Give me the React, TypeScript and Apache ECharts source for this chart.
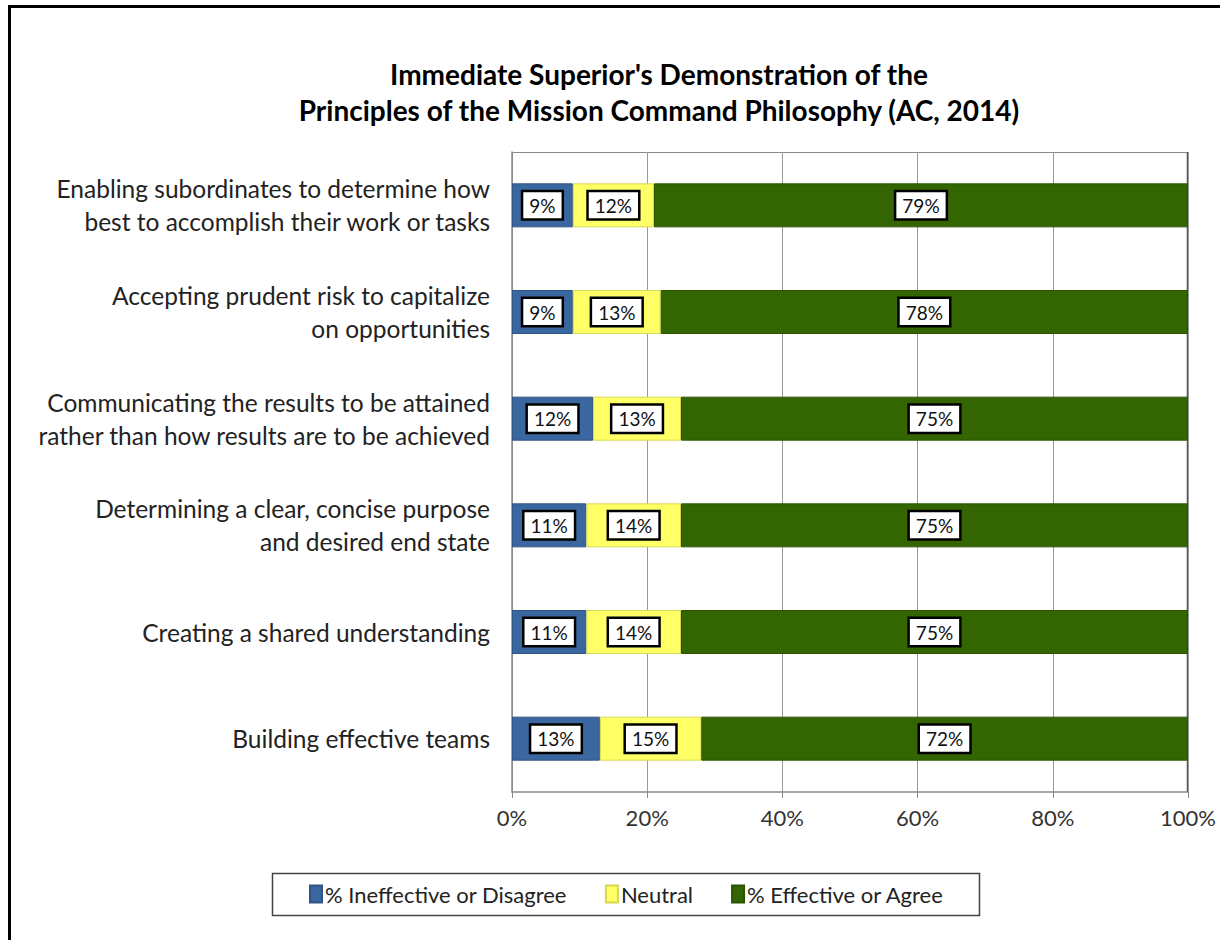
import React, { useEffect, useRef } from "react";
import * as echarts from "echarts";

const categories = [
  "Enabling subordinates to determine how\nbest to accomplish their work or tasks",
  "Accepting prudent risk to capitalize\non opportunities",
  "Communicating the results to be attained\nrather than how results are to be achieved",
  "Determining a clear, concise purpose\nand desired end state",
  "Creating a shared understanding",
  "Building effective teams",
];
const ineffective = [9, 9, 12, 11, 11, 13];
const neutral = [12, 13, 13, 14, 14, 15];
const effective = [79, 78, 75, 75, 75, 72];
const seriesNames = ["% Ineffective or Disagree", "Neutral", "% Effective or Agree"];
const colors = ["#3B67A0", "#FFFF66", "#336600"];
const xTicks = [0, 20, 40, 60, 80, 100];

const FONT = "Lato";

export default function App() {
  const ref = useRef<HTMLDivElement>(null);
  useEffect(() => {
    if (!ref.current) return;
    const chart = echarts.init(ref.current, null, { renderer: "svg" });
    const label = {
      show: true,
      position: "inside",
      formatter: "{c}%",
      color: "#111",
      fontFamily: FONT,
      fontSize: 19,
      backgroundColor: "#fff",
      borderColor: "#000",
      borderWidth: 2.5,
      padding: [4, 6, 3, 6],
    };
    const data = [ineffective, neutral, effective];
    chart.setOption({
      animation: false,
      backgroundColor: "#fff",
      title: {
        text: "Immediate Superior's Demonstration of the\nPrinciples of the Mission Command Philosophy (AC, 2014)",
        left: 654,
        textAlign: "center",
        top: 51,
        textStyle: {
          fontFamily: FONT,
          fontSize: 28,
          fontWeight: "bold",
          color: "#000",
          lineHeight: 36,
        },
      },
      grid: { left: 512, right: 32, top: 152, bottom: 148, containLabel: false },
      xAxis: {
        type: "value",
        min: 0,
        max: 100,
        interval: 20,
        axisLine: { show: true, lineStyle: { color: "#888", width: 1.5 } },
        axisTick: { show: true, length: 6, lineStyle: { color: "#888" } },
        splitLine: { show: true, lineStyle: { color: "#999", width: 1 } },
        axisLabel: {
          formatter: (v: number) => (xTicks.includes(v) ? v + "%" : ""),
          fontFamily: FONT,
          fontSize: 22,
          color: "#333",
          margin: 14,
        },
      },
      yAxis: {
        type: "category",
        data: categories,
        inverse: true,
        axisLine: { show: true, lineStyle: { color: "#888", width: 1.5 } },
        axisTick: { show: false },
        axisLabel: {
          fontFamily: FONT,
          fontSize: 24.5,
          color: "#222",
          lineHeight: 33,
          margin: 22,
          align: "right",
        },
      },
      legend: {
        data: seriesNames,
        left: 304,
        top: 878,
        itemWidth: 12,
        itemHeight: 17,
        itemGap: 38,
        icon: "rect",
        textStyle: { fontFamily: FONT, fontSize: 22, color: "#222", padding: [0, 0, 0, -2] },
      },
      graphic: [
        {
          type: "rect",
          shape: { x: 9.5, y: 6.5, width: 1400, height: 1100 },
          style: { fill: "none", stroke: "#000", lineWidth: 3 },
          silent: true,
        },
        {
          type: "rect",
          shape: { x: 272.5, y: 873.5, width: 707, height: 42 },
          style: { fill: "none", stroke: "#444", lineWidth: 1.5 },
          silent: true,
        },
        {
          type: "line",
          shape: { x1: 512, y1: 152.5, x2: 1188, y2: 152.5 },
          style: { stroke: "#888", lineWidth: 1 },
          silent: true,
        },
        {
          type: "line",
          shape: { x1: 1187.5, y1: 152, x2: 1187.5, y2: 792 },
          style: { stroke: "#555", lineWidth: 1.5 },
          silent: true,
        },
      ],
      series: seriesNames.map((name, i) => ({
        name,
        type: "bar",
        stack: "total",
        data: data[i],
        barWidth: 44,
        itemStyle: {
          color: colors[i],
          borderColor: i === 1 ? "#d8d850" : i === 0 ? "#2f5585" : "#2a5500",
          borderWidth: 1,
        },
        label,
      })),
    });
    return () => chart.dispose();
  }, []);
  return (
    <div
      ref={ref}
      style={{ position: "absolute", left: 0, top: 0, width: 1220, height: 940 }}
    />
  );
}
